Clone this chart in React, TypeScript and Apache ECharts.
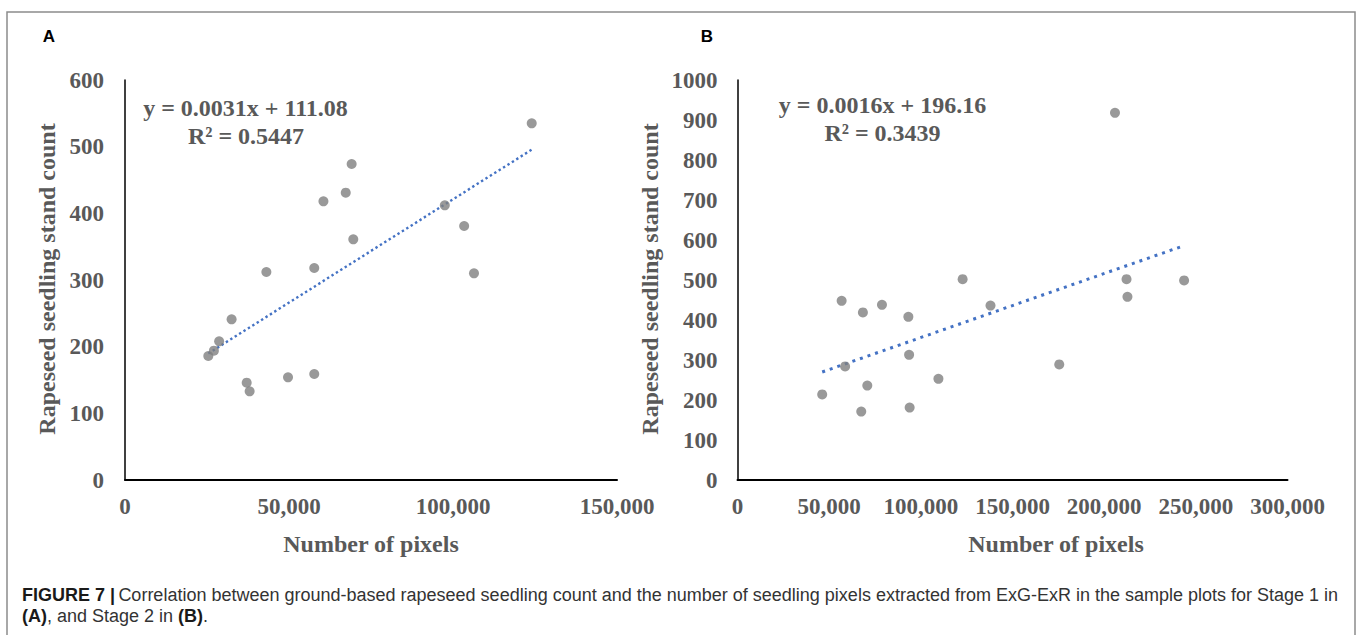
import React, { useEffect, useRef } from "react";
import * as echarts from "echarts";

// Stage 1 (panel A)
const stage1Pixels = [124000, 69100, 67300, 60500, 97500, 103400, 69600, 43100, 57700, 106400, 32500, 28700, 27100, 25400, 37100, 38000, 49700, 57700];
const stage1Counts = [535, 474, 431, 418, 412, 381, 361, 312, 318, 310, 241, 208, 194, 186, 146, 133, 154, 159];
const stage1Fit = { slope: 0.0031, intercept: 111.08, r2: "0.5447", label: "y = 0.0031x + 111.08" };

// Stage 2 (panel B)
const stage2Pixels = [205900, 122800, 212200, 243600, 212700, 56800, 78800, 68400, 138000, 93200, 93600, 58700, 175500, 109600, 70800, 46200, 93900, 67500];
const stage2Counts = [918, 502, 502, 499, 458, 448, 438, 419, 436, 408, 313, 284, 289, 253, 236, 214, 181, 171];
const stage2Fit = { slope: 0.0016, intercept: 196.16, r2: "0.3439", label: "y = 0.0016x + 196.16" };

// Axis ranges / ticks
const xMaxA = 150000;
const xMaxB = 300000;
const xStep = 50000;
const yMaxA = 600;
const yMaxB = 1000;
const yStep = 100;

const yTitle = "Rapeseed seedling stand count";
const xTitle = "Number of pixels";
const captionLine1 = "Correlation between ground-based rapeseed seedling count and the number of seedling pixels extracted from ExG-ExR in the sample plots for Stage 1 in";

const GRAY = "#595959";
const SERIF = "Liberation Serif";
const CAP_FONT = "Liberation Sans";

const fitLine = (xs: number[], fit: { slope: number; intercept: number }) => {
  const lo = Math.min(...xs);
  const hi = Math.max(...xs);
  return [
    [lo, fit.slope * lo + fit.intercept],
    [hi, fit.slope * hi + fit.intercept],
  ];
};

const fmt = (v: number) => v.toLocaleString("en-US");

export default function App() {
  const ref = useRef<HTMLDivElement>(null);
  useEffect(() => {
    if (!ref.current) return;
    const chart = echarts.init(ref.current, null, { renderer: "svg" });
    const labelStyle = { color: GRAY, fontFamily: SERIF, fontWeight: "bold" as const, fontSize: 23 };
    const mkX = (gridIndex: number, max: number) => ({
      type: "value" as const,
      gridIndex,
      min: 0,
      max,
      interval: xStep,
      axisLine: { show: true, onZero: false, lineStyle: { color: "#000", width: 2 } },
      axisTick: { show: false },
      splitLine: { show: false },
      axisLabel: { ...labelStyle, margin: 15, formatter: (v: number) => fmt(v) },
    });
    const mkY = (gridIndex: number, max: number, margin: number) => ({
      type: "value" as const,
      gridIndex,
      min: 0,
      max,
      interval: yStep,
      axisLine: { show: true, onZero: false, lineStyle: { color: "#000", width: 1.5 } },
      axisTick: { show: false },
      splitLine: { show: false },
      axisLabel: { ...labelStyle, margin, formatter: (v: number) => String(v) },
    });
    const textStyle = (x: number, y: number, text: string, extra: any = {}) => ({
      type: "text",
      x,
      y,
      style: {
        text,
        fill: GRAY,
        font: `bold 24px "${SERIF}"`,
        align: "center",
        verticalAlign: "middle",
        ...extra,
      },
    });
    const rich = {
      b: { font: `bold 18px "${CAP_FONT}"`, fill: "#1a1a1a" },
      r: { font: `18px "${CAP_FONT}"`, fill: "#333" },
    };
    chart.setOption({
      animation: false,
      backgroundColor: "#fff",
      grid: [
        { left: 125, top: 80, width: 492, height: 400 },
        { left: 737.5, top: 80, width: 550, height: 400 },
      ],
      xAxis: [mkX(0, xMaxA), mkX(1, xMaxB)],
      yAxis: [mkY(0, yMaxA, 21), mkY(1, yMaxB, 20)],
      series: [
        {
          type: "scatter",
          xAxisIndex: 0,
          yAxisIndex: 0,
          symbolSize: 10,
          itemStyle: { color: "#7f7f7f" },
          data: stage1Pixels.map((p, i) => [p, stage1Counts[i]]),
        },
        {
          type: "line",
          xAxisIndex: 0,
          yAxisIndex: 0,
          showSymbol: false,
          lineStyle: { color: "#4472C4", width: 2.4, type: [2.4, 2.8] },
          data: fitLine(stage1Pixels, stage1Fit),
          z: 1,
        },
        {
          type: "scatter",
          xAxisIndex: 1,
          yAxisIndex: 1,
          symbolSize: 10,
          itemStyle: { color: "#7f7f7f" },
          data: stage2Pixels.map((p, i) => [p, stage2Counts[i]]),
        },
        {
          type: "line",
          xAxisIndex: 1,
          yAxisIndex: 1,
          showSymbol: false,
          lineStyle: { color: "#4472C4", width: 3, type: [3, 5] },
          data: fitLine(stage2Pixels, stage2Fit),
          z: 1,
        },
      ],
      graphic: [
        {
          type: "rect",
          shape: { x: 7, y: 12, width: 1348, height: 640 },
          style: { fill: "none", stroke: "#8c8c8c", lineWidth: 1.5 },
          silent: true,
        },
        { type: "text", x: 49, y: 36, style: { text: "A", fill: "#000", font: 'bold 17px "Liberation Sans"', align: "center", verticalAlign: "middle" } },
        { type: "text", x: 707, y: 36, style: { text: "B", fill: "#000", font: 'bold 17px "Liberation Sans"', align: "center", verticalAlign: "middle" } },
        textStyle(245.5, 108, stage1Fit.label),
        textStyle(246, 136, `R² = ${stage1Fit.r2}`),
        textStyle(882.5, 105, stage2Fit.label),
        textStyle(882.5, 133, `R² = ${stage2Fit.r2}`),
        { ...textStyle(47, 279, yTitle), rotation: Math.PI / 2 },
        { ...textStyle(650, 279, yTitle), rotation: Math.PI / 2 },
        textStyle(371, 544, xTitle),
        textStyle(1056, 544, xTitle),
        {
          type: "text",
          x: 22,
          y: 594.5,
          style: {
            text: `{b|FIGURE 7 |} {r|${captionLine1}}`,
            verticalAlign: "middle",
            rich,
          },
        },
        {
          type: "text",
          x: 22,
          y: 616,
          style: {
            text: "{b|(A)}{r|, and Stage 2 in }{b|(B)}{r|.}",
            verticalAlign: "middle",
            rich,
          },
        },
      ],
    });
    return () => chart.dispose();
  }, []);
  return (
    <div
      ref={ref}
      style={{ position: "fixed", left: 0, top: 0, width: 1358, height: 635, background: "#fff" }}
    />
  );
}
